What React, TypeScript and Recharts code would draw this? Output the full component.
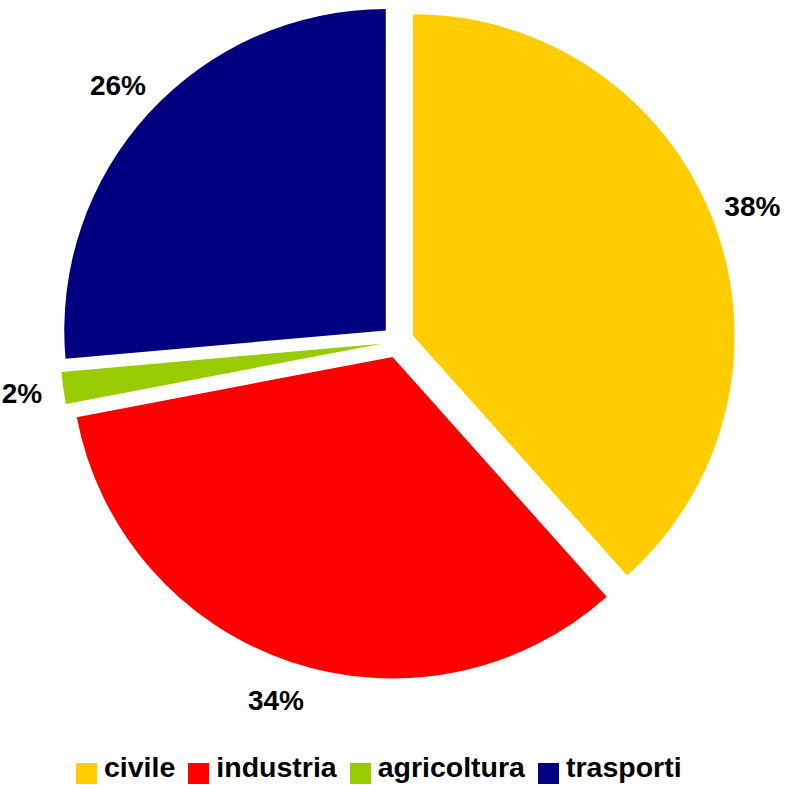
import { Cell, Legend, Pie, PieChart, Sector } from 'recharts'

const categories = ['civile', 'industria', 'agricoltura', 'trasporti']
const shares = [38.4, 33.6, 1.6, 26.4]
const colors = ['#FFCC00', '#FF0000', '#99CC00', '#000080']

const data = categories.map((name, i) => ({ name, value: shares[i] }))

const RADIAN = Math.PI / 180
const EXPLODE = 16.3
const FONT = '"Liberation Sans", Arial, sans-serif'

// each slice pushed out along its own bisector
const renderSlice = (props: any) => {
  const { cx, cy, midAngle } = props
  const ox = EXPLODE * Math.cos(-midAngle * RADIAN)
  const oy = EXPLODE * Math.sin(-midAngle * RADIAN)
  return <Sector {...props} cx={cx + ox} cy={cy + oy} />
}

const renderLabel = (props: any) => {
  const { cx, cy, midAngle, outerRadius, percent } = props
  const r = outerRadius + 58
  const x = cx + r * Math.cos(-midAngle * RADIAN)
  const y = cy + r * Math.sin(-midAngle * RADIAN)
  return (
    <text
      x={x}
      y={y}
      textAnchor="middle"
      dominantBaseline="central"
      fill="#000"
      fontFamily={FONT}
      fontWeight="bold"
      fontSize={28}
    >
      {`${Math.round(percent * 100)}%`}
    </text>
  )
}

export default function App() {
  return (
    <div style={{ position: 'absolute', left: 0, top: 0 }}>
      <PieChart width={789} height={785} margin={{ top: 0, right: 0, bottom: 0, left: 0 }}>
        <Pie
          data={data}
          dataKey="value"
          nameKey="name"
          cx={397.8}
          cy={341.5}
          outerRadius={321.5}
          startAngle={90}
          endAngle={-270}
          stroke="none"
          shape={renderSlice}
          label={renderLabel}
          labelLine={false}
          isAnimationActive={false}
        >
          {data.map((d, i) => (
            <Cell key={d.name} fill={colors[i]} />
          ))}
        </Pie>
        <Legend
          verticalAlign="bottom"
          align="left"
          iconType="square"
          iconSize={21}
          itemSorter={null}
          wrapperStyle={{ left: 76, top: 751, width: 'auto', lineHeight: '32px' }}
          formatter={(value: string) => (
            <span
              style={{
                color: '#000',
                fontFamily: FONT,
                fontWeight: 'bold',
                fontSize: 28.5,
                marginLeft: 3,
                marginRight: 3,
              }}
            >
              {value}
            </span>
          )}
        />
      </PieChart>
    </div>
  )
}
